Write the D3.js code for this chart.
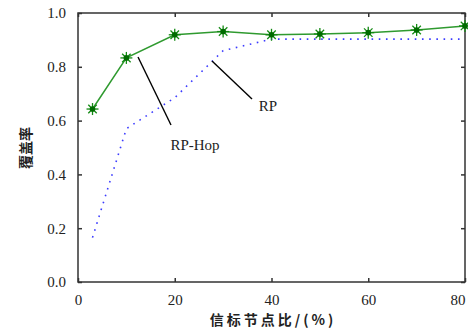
<!DOCTYPE html>
<html><head><meta charset="utf-8">
<script src="https://cdn.jsdelivr.net/npm/d3@7"></script>
<style>body{margin:0;background:#fff}svg{display:block}</style>
</head><body>
<svg id="c" width="468" height="331"></svg>
<script>
const xValues = [3, 10, 20, 30, 40, 50, 60, 70, 80];
const rpHop = [0.643, 0.833, 0.919, 0.931, 0.919, 0.922, 0.927, 0.937, 0.952];
const rp = [0.165, 0.57, 0.685, 0.86, 0.903, 0.903, 0.903, 0.903, 0.903];
const xTicks = [0, 20, 40, 60, 80];
const yTicks = [0, 0.2, 0.4, 0.6, 0.8, 1.0];
const xTitle = "信标节点比/(%)";
const yTitle = "覆盖率";

const svg = d3.select("#c");
const L = 78, R = 465, T = 13, B = 282;
const x = d3.scaleLinear().domain([0, 80]).range([L, R]);
const y = d3.scaleLinear().domain([0, 1]).range([B, T]);
const serif = "'Liberation Serif','Times New Roman',serif";

// frame
svg.append("rect").attr("x", L).attr("y", T).attr("width", R - L).attr("height", B - T)
  .attr("fill", "none").attr("stroke", "#333").attr("stroke-width", 1.5);

// axes with inward ticks
const ax = svg.append("g").attr("transform", `translate(0,${B})`)
  .call(d3.axisBottom(x).tickValues(xTicks).tickSizeInner(-4).tickSizeOuter(0).tickPadding(12).tickFormat(d3.format("d")));
const axT = svg.append("g").attr("transform", `translate(0,${T})`)
  .call(d3.axisTop(x).tickValues(xTicks).tickSizeInner(-4).tickSizeOuter(0).tickFormat(""));
const ay = svg.append("g").attr("transform", `translate(${L},0)`)
  .call(d3.axisLeft(y).tickValues(yTicks).tickSizeInner(-4).tickSizeOuter(0).tickPadding(12).tickFormat(d3.format(".1f")));
const ayR = svg.append("g").attr("transform", `translate(${R},0)`)
  .call(d3.axisRight(y).tickValues(yTicks).tickSizeInner(-4).tickSizeOuter(0).tickFormat(""));
[ax, axT, ay, ayR].forEach(g => {
  g.select(".domain").remove();
  g.selectAll("line").attr("stroke", "#333").attr("stroke-width", 1.5);
  g.selectAll("text").attr("font-family", serif).attr("font-size", 15).attr("fill", "#222");
});
ax.selectAll("text").attr("dy", "0.71em");
ax.selectAll(".tick").filter(d => d === 80).select("text").attr("text-anchor", "end").attr("dx", 0);

// RP dotted
const line = d3.line().x((d, i) => x(xValues[i])).y(d => y(d));
svg.append("path").datum(rp).attr("d", line).attr("fill", "none")
  .attr("stroke", "#3b3bff").attr("stroke-width", 1.6).attr("stroke-dasharray", "1.6 5.6");

// RP-Hop solid
svg.append("path").datum(rpHop).attr("d", line).attr("fill", "none")
  .attr("stroke", "#2f9a2f").attr("stroke-width", 1.5);

// star markers
const mk = svg.append("g").selectAll("g").data(rpHop).join("g")
  .attr("transform", (d, i) => `translate(${x(xValues[i])},${y(d)})`);
const r = 6;
mk.each(function() {
  const g = d3.select(this);
  for (let k = 0; k < 4; k++) {
    const a = k * Math.PI / 4;
    g.append("line").attr("x1", -r * Math.cos(a)).attr("y1", -r * Math.sin(a))
      .attr("x2", r * Math.cos(a)).attr("y2", r * Math.sin(a))
      .attr("stroke", "#138a13").attr("stroke-width", 1.3);
  }
  g.append("circle").attr("r", 2.8).attr("fill", "#006b00");
});

// annotations
svg.append("line").attr("x1", 138).attr("y1", 57).attr("x2", 171).attr("y2", 125)
  .attr("stroke", "#000").attr("stroke-width", 1.4);
svg.append("text").attr("x", 195).attr("y", 150).attr("text-anchor", "middle")
  .attr("font-family", serif).attr("font-size", 15).attr("fill", "#222").text("RP-Hop");
svg.append("line").attr("x1", 212).attr("y1", 61).attr("x2", 252).attr("y2", 99)
  .attr("stroke", "#000").attr("stroke-width", 1.4);
svg.append("text").attr("x", 268).attr("y", 111).attr("text-anchor", "middle")
  .attr("font-family", serif).attr("font-size", 15).attr("fill", "#222").text("RP");

// titles
svg.append("text").attr("x", 273).attr("y", 325).attr("text-anchor", "middle")
  .attr("font-family", "'Noto Sans CJK SC',sans-serif").attr("font-weight", "bold")
  .attr("font-size", 14).attr("letter-spacing", 3).attr("fill", "#222").text(xTitle);
svg.append("text").attr("transform", "translate(31,148) rotate(-90)").attr("text-anchor", "middle")
  .attr("font-family", "'Noto Sans CJK SC',sans-serif").attr("font-weight", "bold")
  .attr("font-size", 14).attr("fill", "#222").text(yTitle);
</script>
</body></html>
